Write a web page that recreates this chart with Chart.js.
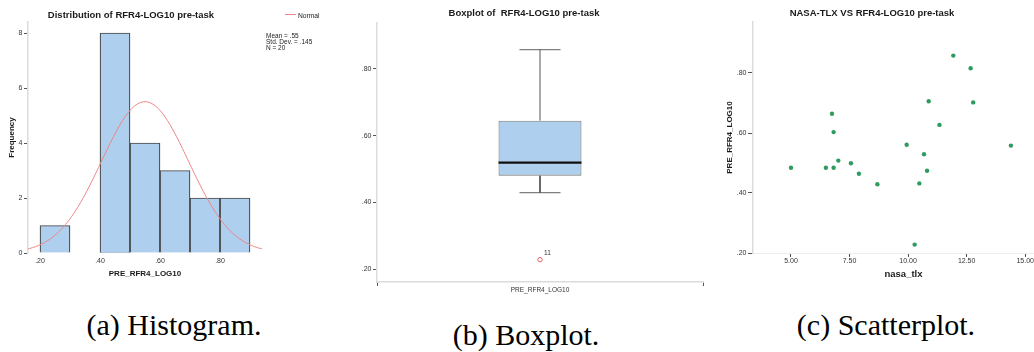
<!DOCTYPE html>
<html>
<head>
<meta charset="utf-8">
<script src="https://cdn.jsdelivr.net/npm/chart.js@4.4.1/dist/chart.umd.min.js"></script>
<style>
  html, body { margin: 0; padding: 0; background: #fff; overflow: hidden; width: 1034px; height: 352px; }
  body { position: relative; font-family: "Liberation Sans", Arial, sans-serif; }
  canvas { position: absolute; top: 0; }
  .cap { position: absolute; font-family: "Liberation Serif", "Times New Roman", serif; font-size: 30px; line-height: 30px;
         white-space: nowrap; transform: translateX(-50%); color: #000; }
  .note { position: absolute; white-space: nowrap; color: #222; }
</style>
</head>
<body>
<canvas id="hist" width="348" height="285" style="left:0px"></canvas>
<canvas id="box" width="385" height="300" style="left:345px"></canvas>
<canvas id="scat" width="406" height="285" style="left:690px"></canvas>

<div id="histLegendLine" style="position:absolute;left:285px;top:14px;width:11px;height:1px;background:#ef8585;"></div>
<div id="histLegendText" class="note" style="left:298px;top:11.5px;font-size:6.7px;line-height:7px;"></div>
<div id="histStats" class="note" style="left:266px;top:33px;font-size:6.5px;line-height:6.1px;"></div>

<div class="cap" id="capA" style="left:174px;top:310px;"></div>
<div class="cap" id="capB" style="left:526px;top:320px;"></div>
<div class="cap" id="capC" style="left:886px;top:310px;"></div>

<script>
// ---- Histogram: PRE_RFR4_LOG10 ----
const binStarts = [0.2, 0.4, 0.5, 0.6, 0.7, 0.8];
const binCounts = [1, 8, 4, 3, 2, 2];
const binWidth = 0.1;
const histXTicks = [0.2, 0.4, 0.6, 0.8];
const histXLabels = ['.20', '.40', '.60', '.80'];
const histYTicks = [0, 2, 4, 6, 8];
const histYLabels = ['0', '2', '4', '6', '8'];
const statMean = 0.55;
const statSd = 0.145;
const statN = 20;

// ---- Boxplot: PRE_RFR4_LOG10 ----
const boxCategories = ['PRE_RFR4_LOG10'];
const boxLow = [0.429];
const boxQ1 = [0.48];
const boxMedian = [0.519];
const boxQ3 = [0.645];
const boxHigh = [0.858];
const outlierValues = [0.228];
const outlierCases = ['11'];
const boxYTicks = [0.2, 0.4, 0.6, 0.8];
const boxYLabels = ['.20', '.40', '.60', '.80'];

// ---- Scatterplot: nasa_tlx vs PRE_RFR4_LOG10 ----
const nasaTlx = [5.00, 6.49, 6.82, 6.75, 6.82, 7.02, 7.56, 7.90, 8.69, 9.94,
                 10.28, 10.48, 10.68, 10.81, 10.88, 11.34, 11.93, 12.67, 12.78, 14.39];
const preRfr4 = [0.484, 0.484, 0.484, 0.664, 0.603, 0.508, 0.499, 0.464, 0.429, 0.561,
                 0.228, 0.432, 0.529, 0.474, 0.706, 0.627, 0.858, 0.816, 0.702, 0.558];
const scatXTicks = [5, 7.5, 10, 12.5, 15];
const scatXLabels = ['5.00', '7.50', '10.00', '12.50', '15.00'];
const scatYTicks = [0.2, 0.4, 0.6, 0.8];
const scatYLabels = ['.20', '.40', '.60', '.80'];

// ---- Captions ----
const captions = ['(a) Histogram.', '(b) Boxplot.', '(c) Scatterplot.'];

Chart.defaults.font.family = '"Liberation Sans", Arial, sans-serif';
Chart.defaults.color = '#333';

const TITLE_FONT = { size: 9.5, weight: 'bold' };
const TICK_FONT = { size: 7 };

function fixedTicks(values) {
  return scale => { scale.ticks = values.map(v => ({ value: v })); };
}

function leftAxis(min, max, values, labels, width, tickLen, title) {
  return {
    type: 'linear', position: 'left', min, max,
    afterBuildTicks: fixedTicks(values),
    afterFit: s => { s.width = width; },
    ticks: { callback: (v, i) => labels[i], font: TICK_FONT, color: '#333', padding: 1.5, autoSkip: false },
    grid: { display: true, drawOnChartArea: false, drawTicks: true, tickLength: tickLen, tickColor: '#555', tickWidth: 1 },
    border: { display: true, color: '#dcdcdc', width: 1.5 },
    title: title || { display: false }
  };
}

// Histogram with the fitted normal curve
const histBars = binStarts.map((s, i) => ({ x: s + binWidth / 2, y: binCounts[i] }));
const normalCurve = [];
for (let k = 0; k <= 156; k++) {
  const x = 0.16 + k * 0.005;
  const z = (x - statMean) / statSd;
  normalCurve.push({ x, y: statN * binWidth * Math.exp(-0.5 * z * z) / (statSd * Math.sqrt(2 * Math.PI)) });
}

new Chart(document.getElementById('hist'), {
  type: 'bar',
  data: {
    datasets: [
      { type: 'line', label: 'Normal', data: normalCurve, borderColor: '#ef8585', borderWidth: 1,
        pointRadius: 0, tension: 0, fill: false, order: 0 },
      { type: 'bar', label: 'Frequency', data: histBars, backgroundColor: '#aecfee', borderColor: '#464646',
        borderWidth: 1.2, barPercentage: 1, categoryPercentage: 1, order: 1 }
    ]
  },
  options: {
    responsive: false, animation: false, events: [],
    layout: { padding: { left: 0, right: 86, top: 0, bottom: 0 } },
    plugins: {
      legend: { display: false }, tooltip: { enabled: false },
      title: { display: true, text: 'Distribution of RFR4-LOG10 pre-task', font: TITLE_FONT, color: '#1a1a1a',
               padding: { top: 9.3, bottom: 1.3 } }
    },
    scales: {
      x: {
        type: 'linear', position: 'bottom', min: 0.16, max: 0.94, offset: false,
        afterBuildTicks: fixedTicks(histXTicks),
        afterFit: s => { s.height = 32; },
        ticks: { callback: (v, i) => histXLabels[i], font: TICK_FONT, color: '#333', padding: 4, maxRotation: 0, autoSkip: false },
        grid: { display: false, drawTicks: false },
        border: { display: false },
        title: { display: true, text: 'PRE_RFR4_LOG10', font: { size: 8, weight: 'bold' }, color: '#1a1a1a', padding: { top: 0, bottom: 6.2 } }
      },
      y: leftAxis(0, 8.4, histYTicks, histYLabels, 28, 4,
        { display: true, text: 'Frequency', font: { size: 8, weight: 'bold' }, color: '#1a1a1a', padding: { top: 7, bottom: 0 } })
    }
  }
});

// Boxplot drawn on a linear x axis with the single category at 0
const boxHalf = 0.2546;
const capHalf = 0.126;
const boxXMin = -1, boxXMax = 1;

const outlierLabelPlugin = {
  id: 'outlierLabels',
  afterDatasetsDraw(chart) {
    const idx = chart.data.datasets.findIndex(d => d.label === 'Outliers');
    const meta = chart.getDatasetMeta(idx);
    const ctx = chart.ctx;
    ctx.save();
    ctx.font = '6.5px "Liberation Sans", Arial, sans-serif';
    ctx.fillStyle = '#333';
    ctx.textAlign = 'left';
    ctx.textBaseline = 'middle';
    meta.data.forEach((pt, i) => ctx.fillText(outlierCases[i], pt.x + 4, pt.y - 6));
    ctx.restore();
  }
};

new Chart(document.getElementById('box'), {
  type: 'scatter',
  data: {
    datasets: [
      { type: 'line', label: 'Median', data: [{ x: -boxHalf, y: boxMedian[0] }, { x: boxHalf, y: boxMedian[0] }],
        borderColor: '#111', borderWidth: 2.2, pointRadius: 0, order: 0 },
      { type: 'scatter', label: 'Outliers', data: outlierValues.map(v => ({ x: 0, y: v })),
        pointRadius: 2.2, pointBorderColor: '#ea5f5f', pointBackgroundColor: 'rgba(255,255,255,0)', pointBorderWidth: 1, order: 0 },
      { type: 'bar', label: 'Box', data: [{ x: 0, y: [boxQ1[0], boxQ3[0]] }],
        backgroundColor: '#aecfee', borderColor: '#7b7b7b', borderWidth: 1.1, borderSkipped: false,
        categoryPercentage: 1, barPercentage: (2 * boxHalf) / (boxXMax - boxXMin), order: 2 },
      { type: 'line', label: 'Upper whisker', data: [{ x: 0, y: boxQ3[0] }, { x: 0, y: boxHigh[0] }],
        borderColor: '#555', borderWidth: 1, pointRadius: 0, order: 3 },
      { type: 'line', label: 'Lower whisker', data: [{ x: 0, y: boxQ1[0] }, { x: 0, y: boxLow[0] }],
        borderColor: '#555', borderWidth: 1, pointRadius: 0, order: 3 },
      { type: 'line', label: 'Upper cap', data: [{ x: -capHalf, y: boxHigh[0] }, { x: capHalf, y: boxHigh[0] }],
        borderColor: '#808080', borderWidth: 1.3, pointRadius: 0, order: 3 },
      { type: 'line', label: 'Lower cap', data: [{ x: -capHalf, y: boxLow[0] }, { x: capHalf, y: boxLow[0] }],
        borderColor: '#808080', borderWidth: 1.3, pointRadius: 0, order: 3 }
    ]
  },
  options: {
    responsive: false, animation: false, events: [],
    layout: { padding: { left: 0, right: 27, top: 0, bottom: 0 } },
    plugins: {
      legend: { display: false }, tooltip: { enabled: false },
      title: { display: true, text: 'Boxplot of  RFR4-LOG10 pre-task', font: TITLE_FONT, color: '#1a1a1a',
               padding: { top: 7.3, bottom: 4.3 } }
    },
    scales: {
      x: {
        type: 'linear', position: 'bottom', min: boxXMin, max: boxXMax, offset: false,
        afterBuildTicks: fixedTicks([0]),
        afterFit: s => { s.height = 18; },
        ticks: { callback: (v, i) => boxCategories[i], font: { size: 6.5 }, color: '#333', padding: 0, maxRotation: 0, autoSkip: false },
        grid: { display: true, drawOnChartArea: false, drawTicks: true, tickLength: 4, tickColor: '#555', tickWidth: 1 },
        border: { display: true, color: '#dcdcdc', width: 1.5 },
        title: { display: false }
      },
      y: leftAxis(0.161, 0.938, boxYTicks, boxYLabels, 32, 4)
    }
  },
  plugins: [outlierLabelPlugin]
});

// Scatterplot
new Chart(document.getElementById('scat'), {
  type: 'scatter',
  data: {
    datasets: [
      { label: 'PRE_RFR4_LOG10', data: nasaTlx.map((x, i) => ({ x, y: preRfr4[i] })),
        pointRadius: 2.2, pointBackgroundColor: '#2f9c5f', pointBorderWidth: 0 }
    ]
  },
  options: {
    responsive: false, animation: false, events: [],
    layout: { padding: { left: 0, right: 42, top: 0, bottom: 0 } },
    plugins: {
      legend: { display: false }, tooltip: { enabled: false },
      title: { display: true, text: 'NASA-TLX VS RFR4-LOG10 pre-task', font: TITLE_FONT, color: '#1a1a1a',
               padding: { top: 7.3, bottom: 3.3 } }
    },
    scales: {
      x: {
        type: 'linear', position: 'bottom', min: 3.378, max: 16.23,
        afterBuildTicks: fixedTicks(scatXTicks),
        afterFit: s => { s.height = 32; },
        ticks: { callback: (v, i) => scatXLabels[i], font: TICK_FONT, color: '#333', padding: 0, maxRotation: 0, autoSkip: false },
        grid: { display: true, drawOnChartArea: false, drawTicks: true, tickLength: 4, tickColor: '#555', tickWidth: 1 },
        border: { display: true, color: '#ececec', width: 1 },
        title: { display: true, text: 'nasa_tlx', font: { size: 9.5, weight: 'bold' }, color: '#1a1a1a', padding: { top: 0, bottom: 5.3 } }
      },
      y: leftAxis(0.2, 0.97, scatYTicks, scatYLabels, 63, 5,
        { display: true, text: 'PRE_RFR4_LOG10', font: { size: 8, weight: 'bold' }, color: '#1a1a1a', padding: { top: 35.2, bottom: 0 } })
    }
  }
});

// Legend entry and summary statistics for the histogram
const fmt = (v, d) => v.toFixed(d).replace(/^0/, '');
document.getElementById('histLegendText').textContent = 'Normal';
document.getElementById('histStats').innerHTML =
  'Mean = ' + fmt(statMean, 2) + '<br>Std. Dev. = ' + fmt(statSd, 3) + '<br>N = ' + statN;

document.getElementById('capA').textContent = captions[0];
document.getElementById('capB').textContent = captions[1];
document.getElementById('capC').textContent = captions[2];
</script>
</body>
</html>
